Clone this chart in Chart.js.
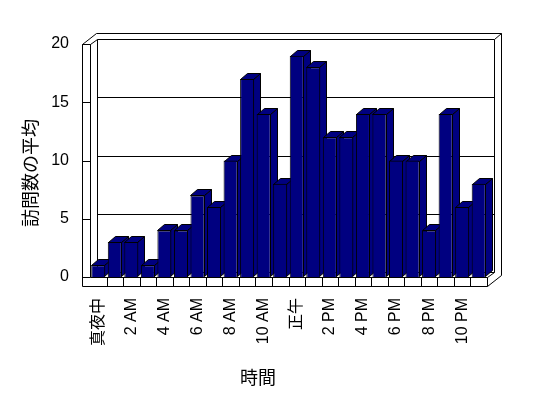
<!DOCTYPE html>
<html><head><meta charset="utf-8">
<script src="https://cdn.jsdelivr.net/npm/chart.js@4"></script>
<style>html,body{margin:0;padding:0;background:#fff;}canvas{display:block;}</style>
</head><body>
<canvas id="c" width="548" height="398"></canvas>
<script>
const categories = ['真夜中','1 AM','2 AM','3 AM','4 AM','5 AM','6 AM','7 AM','8 AM','9 AM','10 AM','11 AM',
                    '正午','1 PM','2 PM','3 PM','4 PM','5 PM','6 PM','7 PM','8 PM','9 PM','10 PM','11 PM'];
const visits = [1,3,3,1,4,4,7,6,10,17,14,8,19,18,12,12,14,14,10,10,4,14,6,8];
const yTicks = [0,5,10,15,20];
const yGridValues = [5,10,15];
const xTitle = '時間';
const yTitle = '訪問数の平均';

const FONT = "'Liberation Sans','Noto Sans CJK JP',sans-serif";
const CJK = "'Noto Sans CJK JP',sans-serif";

const frame3d = {
  id: 'frame3d',
  beforeDatasetsDraw(chart) {
    const ctx = chart.ctx, a = chart.chartArea, ys = chart.scales.y, xs = chart.scales.x;
    const L = Math.round(a.left) + 0.5, R = Math.round(a.right) + 0.5;
    const T = Math.round(a.top) + 0.5, B = Math.round(a.bottom) + 0.5;
    const dx = 7, dy = -5, sx = 8, fh = 9, bx = 7, by = -6;
    ctx.save();
    ctx.strokeStyle = '#000'; ctx.lineWidth = 1;
    const seg = (pts) => { ctx.beginPath(); ctx.moveTo(pts[0][0], pts[0][1]);
      for (let i = 1; i < pts.length; i++) ctx.lineTo(pts[i][0], pts[i][1]); ctx.stroke(); };
    // back wall inner face
    seg([[L+dx,B+dy],[L+dx,T+dy],[R+dx,T+dy],[R+dx,B+dy]]);
    yGridValues.forEach(v => { const y = Math.round(ys.getPixelForValue(v)) + 0.5; seg([[L+dx,y+dy],[R+dx,y+dy]]); });
    // back slab outer edges
    seg([[L-sx,T],[L-sx+dx+bx,T+dy+by],[R+dx+bx,T+dy+by],[R+dx+bx,B+fh+dy+by]]);
    seg([[R+dx,T+dy],[R+dx+bx,T+dy+by]]);
    // left slab
    seg([[L-sx,B+fh],[L-sx,T],[L,T],[L+dx,T+dy]]);
    seg([[L,T],[L,B]]);
    yTicks.forEach(v => { const y = Math.round(ys.getPixelForValue(v)) + 0.5; seg([[L-sx,y],[L,y]]); });
    // floor slab
    seg([[L-sx,B+fh],[R,B+fh],[R,B],[L,B]]);
    seg([[R,B+fh],[R+dx+bx,B+fh+dy+by]]);
    seg([[R,B],[R+dx,B+dy]]);
    seg([[L+dx,B+dy],[R+dx,B+dy]]);
    for (let i = 1; i < categories.length; i++) {
      const x = Math.round((xs.getPixelForValue(i-1) + xs.getPixelForValue(i)) / 2) + 0.5;
      seg([[x,B],[x,B+fh]]);
    }
    // 3D faces of bars (front faces drawn by Chart.js afterwards)
    const bdx = 7, bdy = -6;
    ctx.fillStyle = '#000080';
    chart.getDatasetMeta(0).data.forEach(el => {
      const p = el.getProps(['x','y','base','width'], true);
      const l = Math.round(p.x - p.width/2) + 0.5, r = Math.round(p.x + p.width/2) - 0.5;
      const t = Math.round(p.y) + 0.5, b = Math.round(p.base) - 0.5;
      ctx.beginPath();
      ctx.moveTo(r,b); ctx.lineTo(r,t); ctx.lineTo(r+bdx,t+bdy); ctx.lineTo(r+bdx,b+bdy); ctx.closePath();
      ctx.fill(); ctx.stroke();
      ctx.beginPath();
      ctx.moveTo(l,t); ctx.lineTo(r,t); ctx.lineTo(r+bdx,t+bdy); ctx.lineTo(l+bdx,t+bdy); ctx.closePath();
      ctx.fill(); ctx.stroke();
    });
    ctx.restore();
  },
  afterDraw(chart) {
    const ctx = chart.ctx;
    ctx.save();
    ctx.fillStyle = '#000';
    ctx.font = '18px ' + CJK;
    ctx.textAlign = 'center'; ctx.textBaseline = 'middle';
    ctx.fillText(xTitle, 258, 377);
    ctx.translate(30, 173); ctx.rotate(-Math.PI/2);
    ctx.fillText(yTitle, 0, 0);
    ctx.restore();
  }
};

new Chart(document.getElementById('c'), {
  type: 'bar',
  data: {
    labels: categories,
    datasets: [{
      data: visits,
      backgroundColor: '#000080',
      borderColor: '#000',
      borderWidth: 1,
      barPercentage: 0.85,
      categoryPercentage: 1
    }]
  },
  options: {
    responsive: false,
    animation: false,
    devicePixelRatio: 1,
    layout: { padding: { top: 44, right: 61, left: 0, bottom: 0 } },
    plugins: { legend: { display: false }, tooltip: { enabled: false } },
    scales: {
      x: {
        grid: { display: false, drawTicks: false },
        border: { display: false },
        ticks: {
          autoSkip: false, minRotation: 90, maxRotation: 90, padding: 21, color: '#000',
          font: { family: FONT, size: 16 },
          callback: (v, i) => (i % 2 === 0 ? categories[i] : '')
        },
        afterFit: s => { s.height = 121; }
      },
      y: {
        min: 0, max: 20,
        grid: { display: false, drawTicks: false },
        border: { display: false },
        ticks: { padding: 21, color: '#000', font: { family: FONT, size: 16 } },
        afterBuildTicks: s => { s.ticks = yTicks.map(v => ({ value: v })); },
        afterFit: s => { s.width = 90; }
      }
    }
  },
  plugins: [frame3d]
});
</script>
</body></html>
